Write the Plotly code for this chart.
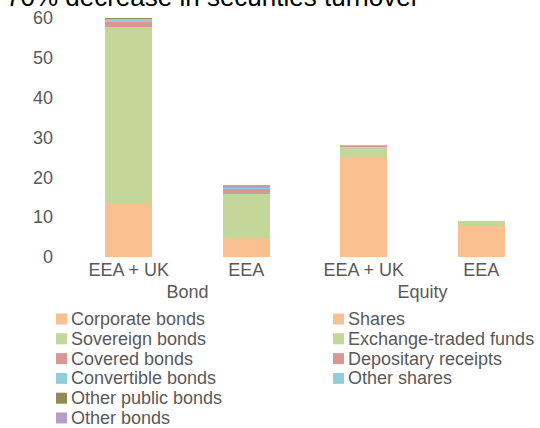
import plotly.graph_objects as go

# categories
groups_bond = ["Bond", "Bond"]
groups_equity = ["Equity", "Equity"]
regions = ["EEA + UK", "EEA"]

# bond segments (EEA + UK, EEA)
corporate_bonds = [13.5, 5.0]
sovereign_bonds = [44.2, 10.8]
covered_bonds = [1.35, 1.3]
convertible_bonds = [0.8, 0.25]
other_public_bonds = [0.25, 0.2]
other_bonds = [0.02, 0.5]

# equity segments (EEA + UK, EEA)
shares = [24.9, 7.95]
etfs = [2.75, 1.1]
depositary_receipts = [0.4, 0.0]
other_shares = [0.05, 0.0]

ORANGE = "#FAC090"
GREEN = "#C4D79B"
RED = "#DA9694"
TEAL = "#92CDDC"
OLIVE = "#948A54"
PURPLE = "#B1A0C7"
GREY = "#595959"
FONT = "Liberation Sans, Arial"

bond_series = [
    ("Corporate bonds", corporate_bonds, ORANGE),
    ("Sovereign bonds", sovereign_bonds, GREEN),
    ("Covered bonds", covered_bonds, RED),
    ("Convertible bonds", convertible_bonds, TEAL),
    ("Other public bonds", other_public_bonds, OLIVE),
    ("Other bonds", other_bonds, PURPLE),
]
equity_series = [
    ("Shares", shares, ORANGE),
    ("Exchange-traded funds", etfs, GREEN),
    ("Depositary receipts", depositary_receipts, RED),
    ("Other shares", other_shares, TEAL),
]

W, H = 540, 428
L, R, T, B = 70, 0, 18, 171
pw, ph = W - L - R, H - T - B


def px_x(px):
    return (px - L) / pw


def px_y(py):
    return (H - B - py) / ph


fig = go.Figure()
for name, vals, col in bond_series:
    fig.add_trace(go.Bar(x=[groups_bond, regions], y=vals, name=name,
                         marker=dict(color=col, line=dict(width=0)),
                         showlegend=False))
for name, vals, col in equity_series:
    fig.add_trace(go.Bar(x=[groups_equity, regions], y=vals, name=name,
                         marker=dict(color=col, line=dict(width=0)),
                         showlegend=False))

# Excel-style compact legend: two columns, square swatch + label
shapes, annots = [], []
for col_x, series in ((56, bond_series), (333, equity_series)):
    for i, (name, _, col) in enumerate(series):
        cy = 319 + i * 19.8
        shapes.append(dict(type="rect", xref="paper", yref="paper",
                           x0=px_x(col_x), x1=px_x(col_x + 11),
                           y0=px_y(cy + 5.5), y1=px_y(cy - 5.5),
                           fillcolor=col, line=dict(width=0)))
        annots.append(dict(text=name, xref="paper", yref="paper",
                           x=px_x(col_x + 13), y=px_y(cy),
                           xanchor="left", yanchor="middle", showarrow=False,
                           font=dict(family=FONT, size=18, color=GREY)))

annots.append(dict(text="70% decrease in securities turnover",
                   xref="paper", yref="paper", x=px_x(4), y=1,
                   xanchor="left", yanchor="bottom", yshift=4,
                   showarrow=False,
                   font=dict(family=FONT, size=26, color="black")))

fig.update_layout(
    width=W, height=H,
    margin=dict(l=L, r=R, t=T, b=B, autoexpand=False),
    barmode="stack", bargap=0.6,
    plot_bgcolor="white", paper_bgcolor="white",
    font=dict(family=FONT, size=18, color=GREY),
    showlegend=False,
    xaxis=dict(type="multicategory", showdividers=False, showline=False,
               ticks="", automargin=False,
               tickfont=dict(size=18, color=GREY)),
    yaxis=dict(range=[0, 60], dtick=10, showgrid=False, zeroline=False,
               showline=False, ticks="", automargin=False,
               ticklabelstandoff=16,
               tickfont=dict(size=18, color=GREY)),
    shapes=shapes,
    annotations=annots,
)

# drop the default 8px body margin so the figure sits at the page corner
fig.write_html("out.html", config={"displayModeBar": False},
               post_script="document.body.style.margin='0';")
